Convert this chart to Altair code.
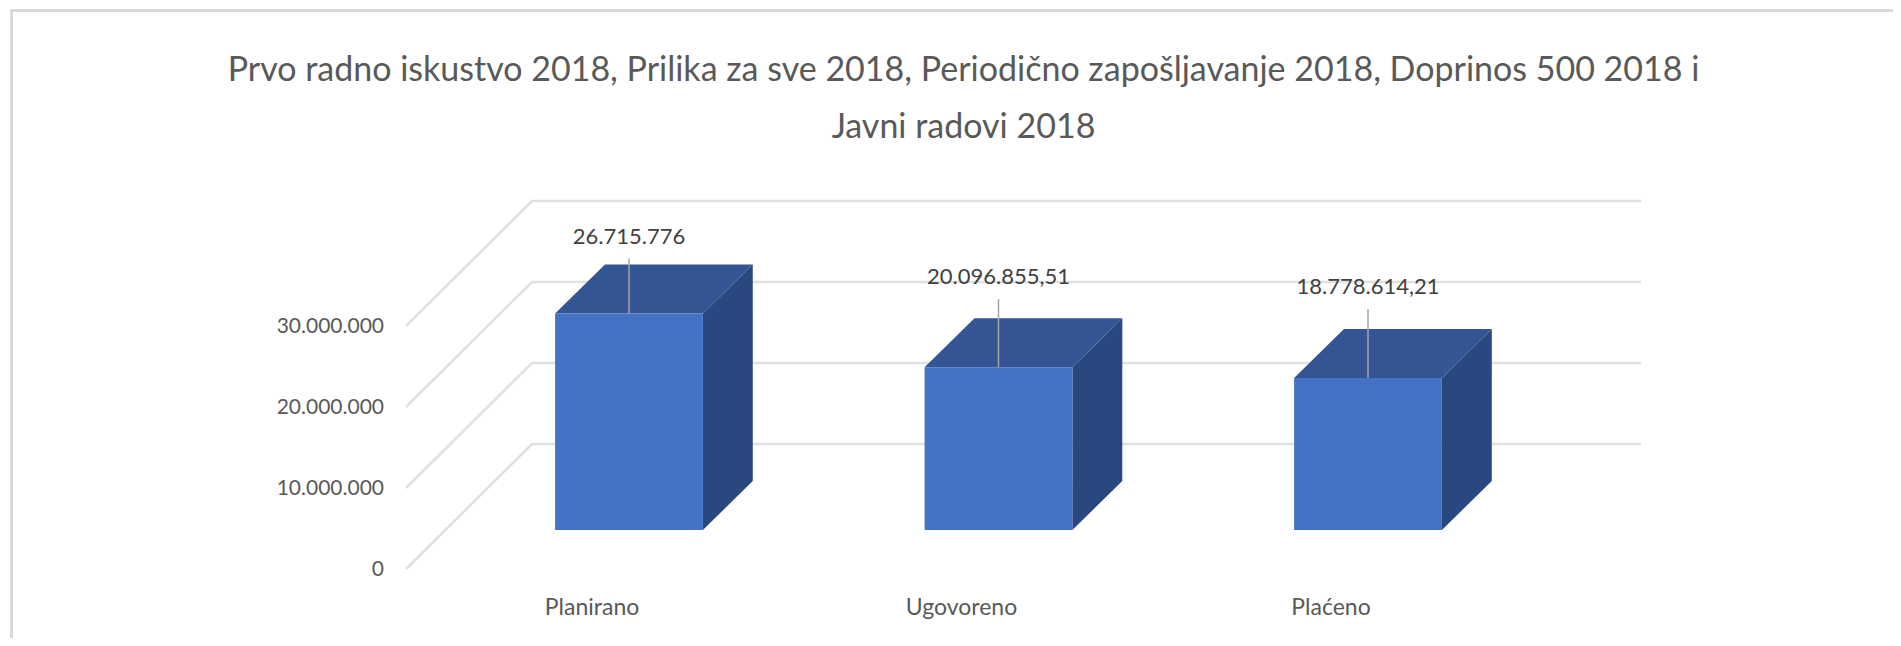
import altair as alt
import pandas as pd

# ---- chart values
categories = ["Planirano", "Ugovoreno", "Plaćeno"]
values = [26715776, 20096855.51, 18778614.21]
value_labels = ["26.715.776", "20.096.855,51", "18.778.614,21"]
ticks = [0, 10000000, 20000000, 30000000]
tick_labels = ["0", "10.000.000", "20.000.000", "30.000.000"]
title_lines = [
    "Prvo radno iskustvo 2018, Prilika za sve 2018, Periodično zapošljavanje 2018, Doprinos 500 2018 i",
    "Javni radovi 2018",
]

# ---- layout: x is in category steps, y in value units
FONT = "Lato"
X_DOMAIN = [-1.6806, 3.4208]
Y_DOMAIN = [-13333000, 64444000]
BAR_HALF = 0.2
DEPTH_X = 0.135
DEPTH_Y = 6050000
WALL_FRONT_X, WALL_BACK_X, WALL_END_X = -0.6035, -0.2625, 2.739
WALL_FRONT_Y, WALL_BACK_Y = -4815000, 10617000
TICK_LABEL_X = -0.663
CAT_LABEL_SHIFT = -0.1
LABEL_LIFT = [9400000, 11150000, 11250000]
LEADER_LIFT = [6800000, 8400000, 8500000]

FRONT, TOP, SIDE = "#4472c4", "#335593", "#2a4880"
GRID, TEXT_SOFT, TEXT_DARK, LEADER = "#e0e0e0", "#595959", "#404040", "#a6a6a6"

x_scale = alt.Scale(domain=X_DOMAIN, nice=False, zero=False)
y_scale = alt.Scale(domain=Y_DOMAIN, nice=False, zero=False)
xs = alt.X("x:Q", scale=x_scale, axis=None)
ys = alt.Y("y:Q", scale=y_scale, axis=None)

# tables built from the arrays
grid_rows, top_rows, side_rows, bar_rows = [], [], [], []
for t in ticks:
    grid_rows += [
        {"t": t, "k": 0, "x": WALL_FRONT_X, "y": t + WALL_FRONT_Y},
        {"t": t, "k": 1, "x": WALL_BACK_X, "y": t + WALL_BACK_Y},
        {"t": t, "k": 2, "x": WALL_END_X, "y": t + WALL_BACK_Y},
    ]
for i, (c, v) in enumerate(zip(categories, values)):
    x0, x1 = i - BAR_HALF, i + BAR_HALF
    bar_rows.append({"c": c, "x": x0, "x2": x1, "y": 0, "y2": v,
                     "cx": i, "ly": v + LABEL_LIFT[i], "ley": v + LEADER_LIFT[i]})
    top_rows += [
        {"c": c, "x": x0, "y": v, "y2": v},
        {"c": c, "x": x0 + DEPTH_X, "y": v, "y2": v + DEPTH_Y},
        {"c": c, "x": x1, "y": v, "y2": v + DEPTH_Y},
        {"c": c, "x": x1 + DEPTH_X, "y": v + DEPTH_Y, "y2": v + DEPTH_Y},
    ]
    side_rows += [
        {"c": c, "x": x1, "y": 0, "y2": v},
        {"c": c, "x": x1 + DEPTH_X, "y": DEPTH_Y, "y2": v + DEPTH_Y},
    ]
bars = pd.DataFrame(bar_rows)
bars["label"] = value_labels
tick_df = pd.DataFrame({"x": [TICK_LABEL_X] * 4,
                        "y": [t + WALL_FRONT_Y for t in ticks],
                        "label": tick_labels})
cat_df = pd.DataFrame({"x": [i + CAT_LABEL_SHIFT for i in range(3)],
                       "y": [-9600000] * 3, "label": categories})

W, H = 1885, 630
frame_left = alt.Chart(pd.DataFrame({"a": [0]})).mark_rule(color="#d9d9d9", strokeWidth=3).encode(
    x=alt.value(3.5), y=alt.value(1), y2=alt.value(H))
frame_top = alt.Chart(pd.DataFrame({"a": [0]})).mark_rule(color="#d9d9d9", strokeWidth=3).encode(
    y=alt.value(2.5), x=alt.value(2), x2=alt.value(W))

grid = alt.Chart(pd.DataFrame(grid_rows)).mark_line(color=GRID, strokeWidth=2.5).encode(
    x=xs, y=ys, detail="t:N", order="k:Q")
side = alt.Chart(pd.DataFrame(side_rows)).mark_area(color=SIDE, orient="vertical").encode(
    x=xs, y=ys, y2="y2:Q", detail="c:N")
top = alt.Chart(pd.DataFrame(top_rows)).mark_area(color=TOP, orient="vertical").encode(
    x=xs, y=ys, y2="y2:Q", detail="c:N")
front = alt.Chart(bars).mark_rect(color=FRONT).encode(x=xs, x2="x2:Q", y=ys, y2="y2:Q")
leader = alt.Chart(bars).mark_rule(color=LEADER, strokeWidth=1.5).encode(
    x=alt.X("cx:Q", scale=x_scale, axis=None),
    y=alt.Y("y2:Q", scale=y_scale, axis=None),
    y2="ley:Q")
value_text = alt.Chart(bars).mark_text(font=FONT, fontSize=22, color=TEXT_DARK, baseline="middle").encode(
    x=alt.X("cx:Q", scale=x_scale, axis=None),
    y=alt.Y("ly:Q", scale=y_scale, axis=None),
    text="label:N")
tick_text = alt.Chart(tick_df).mark_text(font=FONT, fontSize=21, color=TEXT_SOFT, align="right",
                                         baseline="middle", dy=1).encode(
    x=xs, y=ys, text="label:N")
cat_text = alt.Chart(cat_df).mark_text(font=FONT, fontSize=23, color=TEXT_SOFT, baseline="middle").encode(
    x=xs, y=ys, text="label:N")

chart = alt.layer(
    frame_left, frame_top, grid, side, top, front, leader,
    tick_text, cat_text, value_text).properties(
    width=W, height=H,
    padding=0,
    autosize=alt.AutoSizeParams(type="none"),
    title=alt.TitleParams(
        text=title_lines, font=FONT, fontSize=34, fontWeight="normal",
        color=TEXT_SOFT, lineHeight=57, anchor="middle", frame="group",
        dx=13, dy=141),
).configure_view(stroke=None)

chart.save("out.html", embed_options={"renderer": "svg", "actions": False})
